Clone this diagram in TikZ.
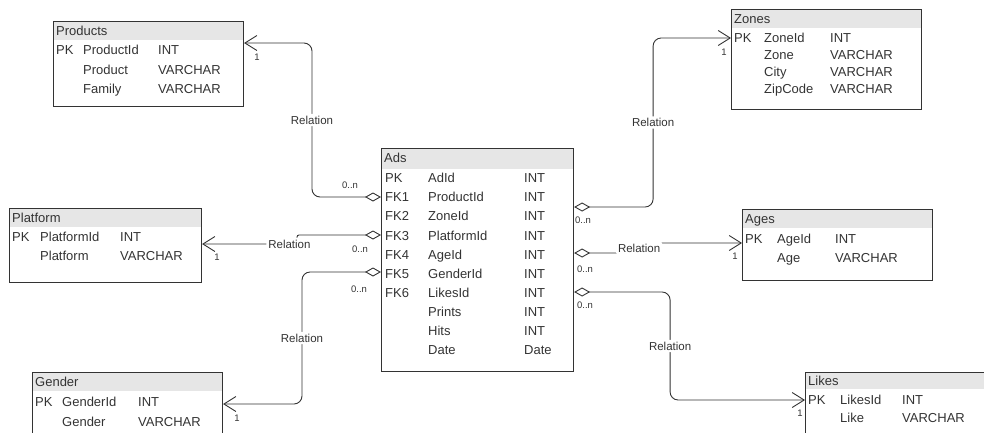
\documentclass[tikz,border=0pt]{standalone}
\usepackage{fontspec}
\setmainfont{Liberation Sans}
\usetikzlibrary{arrows.meta}
\definecolor{ink}{HTML}{333333}
\definecolor{hdrgray}{HTML}{E6E6E6}

\tikzset{
  tbox/.style={draw=ink, line width=1.1pt, anchor=north west, inner sep=0pt},
  thead/.style={fill=hdrgray, anchor=north west, inner sep=0pt},
  cell/.style={anchor=west, inner sep=0pt, text=ink, font=\fontsize{13}{15}\selectfont, text height=9.3pt, text depth=0pt},
  card/.style={inner sep=0pt, text=ink, font=\fontsize{9.5}{11}\selectfont},
  lbl/.style={fill=white, inner sep=2pt, text=ink, font=\fontsize{11.5}{13}\selectfont},
  rel/.style={draw=ink, line width=0.9pt, rounded corners=8pt,
    {Diamond[open,length=16pt,width=9pt]}-{Straight Barb[length=12pt,width=15pt]}}
}

\begin{document}
\begin{tikzpicture}[x=1pt,y=-1pt]
\clip (0,0) rectangle (984,432);

% Products
\node[thead, minimum width=190pt, minimum height=19pt] (products-h) at (53,21) {};
\node[tbox, minimum width=190pt, minimum height=85pt] (products) at (53,21) {};
\node[cell] (products-t) at (56,31) {Products};
\node[cell] (pr1a) at (56,50) {PK};
\node[cell] (pr1b) at (83,50) {ProductId};
\node[cell] (pr1c) at (158,50) {INT};
\node[cell] (pr2b) at (83,70) {Product};
\node[cell] (pr2c) at (158,70) {VARCHAR};
\node[cell] (pr3b) at (83,89) {Family};
\node[cell] (pr3c) at (158,89) {VARCHAR};

% Zones
\node[thead, minimum width=190pt, minimum height=19pt] (zones-h) at (731,9) {};
\node[tbox, minimum width=190pt, minimum height=100pt] (zones) at (731,9) {};
\node[cell] (zones-t) at (734,19) {Zones};
\node[cell] (zo1a) at (734,38) {PK};
\node[cell] (zo1b) at (764,38) {ZoneId};
\node[cell] (zo1c) at (830,38) {INT};
\node[cell] (zo2b) at (764,55) {Zone};
\node[cell] (zo2c) at (830,55) {VARCHAR};
\node[cell] (zo3b) at (764,72) {City};
\node[cell] (zo3c) at (830,72) {VARCHAR};
\node[cell] (zo4b) at (764,89) {ZipCode};
\node[cell] (zo4c) at (830,89) {VARCHAR};

% Platform
\node[thead, minimum width=192pt, minimum height=19pt] (platform-h) at (9,208) {};
\node[tbox, minimum width=192pt, minimum height=74pt] (platform) at (9,208) {};
\node[cell] (platform-t) at (12,218) {Platform};
\node[cell] (pl1a) at (12,237) {PK};
\node[cell] (pl1b) at (40,237) {PlatformId};
\node[cell] (pl1c) at (120,237) {INT};
\node[cell] (pl2b) at (40,256) {Platform};
\node[cell] (pl2c) at (120,256) {VARCHAR};

% Ads
\node[thead, minimum width=192pt, minimum height=21pt] (ads-h) at (381,148) {};
\node[tbox, minimum width=192pt, minimum height=223pt] (ads) at (381,148) {};
\node[cell] (ads-t) at (384,158) {Ads};
\node[cell] (ad1a) at (385,178) {PK};
\node[cell] (ad1b) at (428,178) {AdId};
\node[cell] (ad1c) at (524,178) {INT};
\node[cell] (ad2a) at (385,197) {FK1};
\node[cell] (ad2b) at (428,197) {ProductId};
\node[cell] (ad2c) at (524,197) {INT};
\node[cell] (ad3a) at (385,216) {FK2};
\node[cell] (ad3b) at (428,216) {ZoneId};
\node[cell] (ad3c) at (524,216) {INT};
\node[cell] (ad4a) at (385,236) {FK3};
\node[cell] (ad4b) at (428,236) {PlatformId};
\node[cell] (ad4c) at (524,236) {INT};
\node[cell] (ad5a) at (385,255) {FK4};
\node[cell] (ad5b) at (428,255) {AgeId};
\node[cell] (ad5c) at (524,255) {INT};
\node[cell] (ad6a) at (385,274) {FK5};
\node[cell] (ad6b) at (428,274) {GenderId};
\node[cell] (ad6c) at (524,274) {INT};
\node[cell] (ad7a) at (385,293) {FK6};
\node[cell] (ad7b) at (428,293) {LikesId};
\node[cell] (ad7c) at (524,293) {INT};
\node[cell] (ad8b) at (428,312) {Prints};
\node[cell] (ad8c) at (524,312) {INT};
\node[cell] (ad9b) at (428,331) {Hits};
\node[cell] (ad9c) at (524,331) {INT};
\node[cell] (ad10b) at (428,350) {Date};
\node[cell] (ad10c) at (524,350) {Date};

% Ages
\node[thead, minimum width=190pt, minimum height=19pt] (ages-h) at (742,209) {};
\node[tbox, minimum width=190pt, minimum height=71pt] (ages) at (742,209) {};
\node[cell] (ages-t) at (745,219) {Ages};
\node[cell] (ag1a) at (745,239) {PK};
\node[cell] (ag1b) at (777,239) {AgeId};
\node[cell] (ag1c) at (835,239) {INT};
\node[cell] (ag2b) at (777,258) {Age};
\node[cell] (ag2c) at (835,258) {VARCHAR};

% Gender
\node[thead, minimum width=190pt, minimum height=19pt] (gender-h) at (32,372) {};
\node[tbox, minimum width=190pt, minimum height=80pt] (gender) at (32,372) {};
\node[cell] (gender-t) at (35,382) {Gender};
\node[cell] (ge1a) at (35,402) {PK};
\node[cell] (ge1b) at (62,402) {GenderId};
\node[cell] (ge1c) at (138,402) {INT};
\node[cell] (ge2b) at (62,422) {Gender};
\node[cell] (ge2c) at (138,422) {VARCHAR};

% Likes
\node[thead, minimum width=190pt, minimum height=17pt] (likes-h) at (805,372) {};
\node[tbox, minimum width=190pt, minimum height=80pt] (likes) at (805,372) {};
\node[cell] (likes-t) at (808,381) {Likes};
\node[cell] (li1a) at (808,400) {PK};
\node[cell] (li1b) at (840,400) {LikesId};
\node[cell] (li1c) at (902,400) {INT};
\node[cell] (li2b) at (840,418) {Like};
\node[cell] (li2c) at (902,418) {VARCHAR};

% relations
\draw[rel] ([yshift=-49pt]ads.north west) -- ++(-69,0)
  |- node[lbl, pos=0.25] (rel-pr) {Relation} ([yshift=-22pt]products.north east);
\draw[rel] ([yshift=-59pt]ads.north east) -- ++(79,0)
  |- node[lbl, pos=0.25] (rel-zo) {Relation} ([yshift=-29pt]zones.north west);
\draw[rel, rounded corners=2pt] ([yshift=-87pt]ads.north west) -- ++(-84,0)
  |- node[lbl, pos=0.54] (rel-pl) {Relation} ([yshift=-36pt]platform.north east);
\draw[rel, rounded corners=2pt] ([yshift=-105pt]ads.north east) -- ++(65,0)
  node[lbl, yshift=5pt] (rel-ag) {Relation} |- ([yshift=-34pt]ages.north west);
\draw[rel] ([yshift=-124pt]ads.north west) -- ++(-79,0)
  |- node[lbl, pos=0.25] (rel-ge) {Relation} ([yshift=-32pt]gender.north east);
\draw[rel] ([yshift=-144pt]ads.north east) -- ++(96,0)
  |- node[lbl, pos=0.25] (rel-li) {Relation} ([yshift=-28pt]likes.north west);

% cardinalities
\node[card] (n-pr) at (350,185) {0..n};
\node[card] (o-pr) at (257,57) {1};
\node[card] (n-zo) at (583,220) {0..n};
\node[card] (o-zo) at (724,52) {1};
\node[card] (n-pl) at (360,249) {0..n};
\node[card] (o-pl) at (217,257) {1};
\node[card] (n-ag) at (585,269) {0..n};
\node[card] (o-ag) at (735,256) {1};
\node[card] (n-ge) at (359,289) {0..n};
\node[card] (o-ge) at (237,418) {1};
\node[card] (n-li) at (585,305) {0..n};
\node[card] (o-li) at (800,413) {1};
\end{tikzpicture}
\end{document}
